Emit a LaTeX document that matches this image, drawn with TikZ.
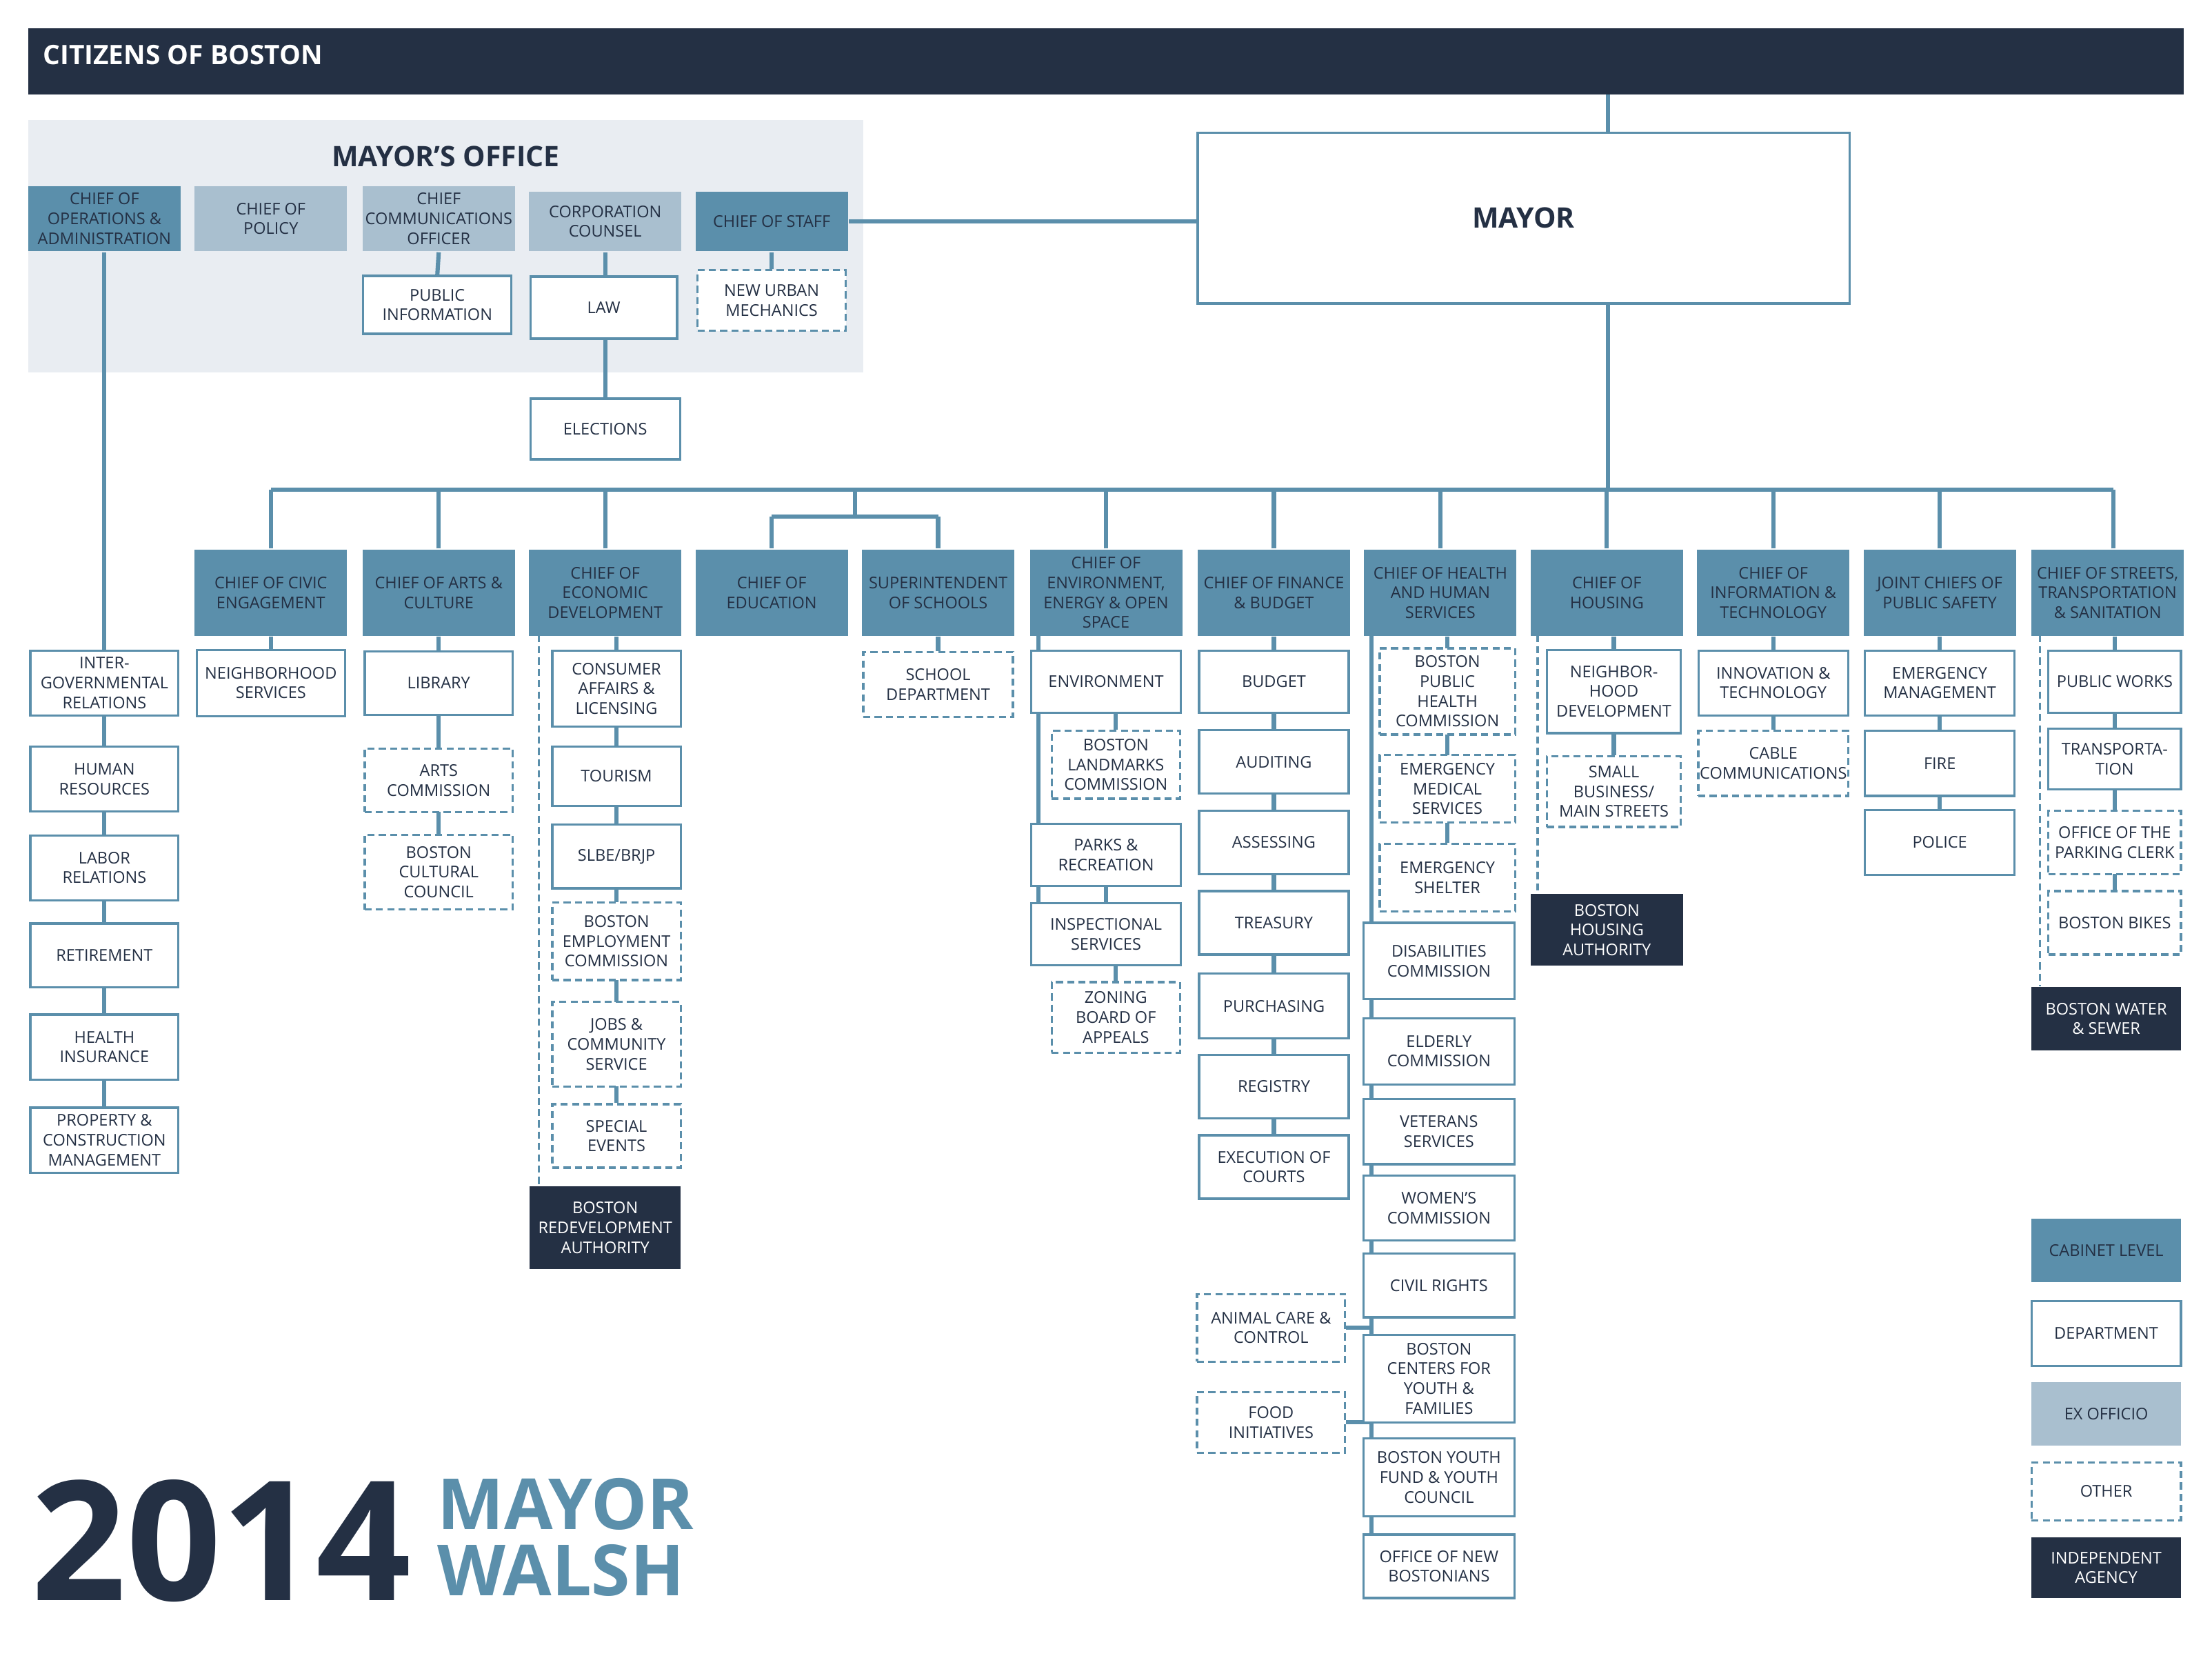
\documentclass[tikz,border=0pt]{standalone}
\usepackage{fontspec}
\setmainfont{Open Sans}
\usetikzlibrary{backgrounds}
\definecolor{navy}{HTML}{243044}
\definecolor{cab}{HTML}{5B8FAB}
\definecolor{exo}{HTML}{A9BFCF}
\definecolor{ltbg}{HTML}{E9EDF2}
\tikzset{
 base/.style={line width=1.6pt, align=center, inner sep=1pt, font=\fontsize{11.5}{14}\selectfont, text=navy},
 dept/.style={base, draw=cab, fill=white},
 oth/.style={base, draw=cab, dashed, dash pattern=on 5pt off 3pt, fill=white},
 cabl/.style={base, fill=cab, text=navy},
 exof/.style={base, fill=exo, text=navy},
 ind/.style={base, fill=navy, text=white},
 con/.style={draw=cab, line width=3pt},
 dcon/.style={draw=cab, line width=1.6pt, dash pattern=on 5pt off 3pt},
}
\newcommand\bx[7]{\node[#1, minimum width=#5pt, minimum height=#6pt] (#2) at (#3,#4) {#7};}
\begin{document}
\begin{tikzpicture}[x=1pt,y=-1pt]
\useasboundingbox (0,0) rectangle (1568,1181);
\begin{scope}[on background layer]
\fill[white] (0,0) rectangle (1568,1181);
\fill[ltbg] (20,85) rectangle (612,264);
\end{scope}
% top
\node[fill=navy, minimum width=1528pt, minimum height=47pt, inner sep=0pt] (bar) at (784,43.5) {};
\node[anchor=west, text=white, font=\fontsize{19}{22}\selectfont\bfseries] (bartxt) at (27,39) {CITIZENS OF BOSTON};
\node[text=navy, font=\fontsize{20}{24}\selectfont\bfseries] (motitle) at (316,111) {MAYOR’S OFFICE};
\node[base, draw=cab, fill=white, minimum width=462pt, minimum height=121pt, font=\fontsize{20}{24}\selectfont\bfseries] (mayor) at (1080,154.5) {MAYOR};
% mayor's office
\bx{cabl}{coo}{74}{155}{108}{46}{CHIEF OF\\OPERATIONS \&\\ADMINISTRATION}
\bx{exof}{pol}{192}{155}{108}{46}{CHIEF OF\\POLICY}
\bx{exof}{comm}{311}{155}{108}{46}{CHIEF\\COMMUNICATIONS\\OFFICER}
\bx{exof}{corp}{429}{157}{108}{42}{CORPORATION\\COUNSEL}
\bx{cabl}{cos}{547}{157}{108}{42}{CHIEF OF STAFF}
\bx{dept}{pubinfo}{310}{216}{105}{41}{PUBLIC\\INFORMATION}
\bx{dept}{law}{428}{218}{104}{44}{LAW}
\bx{oth}{num}{547}{213}{105}{43}{NEW URBAN\\MECHANICS}
\bx{dept}{elect}{429}{304}{106}{43}{ELECTIONS}
% coo column
\bx{dept}{igr}{74}{484}{105}{46}{INTER-\\GOVERNMENTAL\\RELATIONS}
\bx{dept}{hr}{74}{552}{105}{46}{HUMAN\\RESOURCES}
\bx{dept}{labor}{74}{615}{105}{46}{LABOR\\RELATIONS}
\bx{dept}{ret}{74}{677}{105}{45}{RETIREMENT}
\bx{dept}{hins}{74}{742}{105}{46}{HEALTH\\INSURANCE}
\bx{dept}{prop}{74}{808}{105}{46}{PROPERTY \&\\CONSTRUCTION\\MANAGEMENT}
% cabinet row
\bx{cabl}{civic}{192}{420}{108}{61}{CHIEF OF CIVIC\\ENGAGEMENT}
\bx{cabl}{arts}{311}{420}{108}{61}{CHIEF OF ARTS \&\\CULTURE}
\bx{cabl}{econ}{429}{420}{108}{61}{CHIEF OF\\ECONOMIC\\DEVELOPMENT}
\bx{cabl}{educ}{547}{420}{108}{61}{CHIEF OF\\EDUCATION}
\bx{cabl}{supt}{665}{420}{108}{61}{SUPERINTENDENT\\OF SCHOOLS}
\bx{cabl}{env}{784}{420}{108}{61}{CHIEF OF\\ENVIRONMENT,\\ENERGY \& OPEN\\SPACE}
\bx{cabl}{fin}{903}{420}{108}{61}{CHIEF OF FINANCE\\\& BUDGET}
\bx{cabl}{hlth}{1021}{420}{108}{61}{CHIEF OF HEALTH\\AND HUMAN\\SERVICES}
\bx{cabl}{hous}{1139}{420}{108}{61}{CHIEF OF\\HOUSING}
\bx{cabl}{info}{1257}{420}{108}{61}{CHIEF OF\\INFORMATION \&\\TECHNOLOGY}
\bx{cabl}{safe}{1375}{420}{108}{61}{JOINT CHIEFS OF\\PUBLIC SAFETY}
\bx{cabl}{strt}{1494}{420}{108}{61}{CHIEF OF STREETS,\\TRANSPORTATION\\\& SANITATION}
% civic
\bx{dept}{nbhd}{192}{484}{105}{47}{NEIGHBORHOOD\\SERVICES}
% arts
\bx{dept}{lib}{311}{484}{105}{45}{LIBRARY}
\bx{oth}{artc}{311}{553}{105}{45}{ARTS\\COMMISSION}
\bx{oth}{bcc}{311}{618}{105}{53}{BOSTON\\CULTURAL\\COUNCIL}
% econ
\bx{dept}{cal}{437}{488}{91}{54}{CONSUMER\\AFFAIRS \&\\LICENSING}
\bx{dept}{tour}{437}{550}{91}{42}{TOURISM}
\bx{dept}{slbe}{437}{607}{91}{45}{SLBE/BRJP}
\bx{oth}{bec}{437}{667}{91}{55}{BOSTON\\EMPLOYMENT\\COMMISSION}
\bx{oth}{jobs}{437}{740}{91}{60}{JOBS \&\\COMMUNITY\\SERVICE}
\bx{oth}{spev}{437}{805}{91}{45}{SPECIAL\\EVENTS}
\bx{ind}{bra}{429}{870}{107}{59}{BOSTON\\REDEVELOPMENT\\AUTHORITY}
% supt
\bx{oth}{school}{665}{485}{106}{46}{SCHOOL\\DEPARTMENT}
% env
\bx{dept}{envd}{784}{483}{106}{44}{ENVIRONMENT}
\bx{oth}{land}{791}{542}{91}{48}{BOSTON\\LANDMARKS\\COMMISSION}
\bx{dept}{parks}{784}{606}{106}{44}{PARKS \&\\RECREATION}
\bx{dept}{insp}{784}{662}{106}{44}{INSPECTIONAL\\SERVICES}
\bx{oth}{zone}{791}{721}{91}{50}{ZONING\\BOARD OF\\APPEALS}
% finance
\bx{dept}{budg}{903}{483}{106}{44}{BUDGET}
\bx{dept}{aud}{903}{540}{106}{45}{AUDITING}
\bx{dept}{ass}{903}{597}{106}{45}{ASSESSING}
\bx{dept}{tre}{903}{654}{106}{45}{TREASURY}
\bx{dept}{pur}{903}{713}{106}{46}{PURCHASING}
\bx{dept}{reg}{903}{770}{106}{45}{REGISTRY}
\bx{dept}{exec}{903}{827}{106}{45}{EXECUTION OF\\COURTS}
% health
\bx{oth}{bphc}{1026}{490}{96}{61}{BOSTON\\PUBLIC\\HEALTH\\COMMISSION}
\bx{oth}{ems}{1026}{559}{96}{48}{EMERGENCY\\MEDICAL\\SERVICES}
\bx{oth}{shel}{1026}{622}{96}{48}{EMERGENCY\\SHELTER}
\bx{dept}{dis}{1020}{681}{107}{54}{DISABILITIES\\COMMISSION}
\bx{dept}{eld}{1020}{745}{107}{47}{ELDERLY\\COMMISSION}
\bx{dept}{vet}{1020}{802}{107}{46}{VETERANS\\SERVICES}
\bx{dept}{wom}{1020}{856}{107}{46}{WOMEN’S\\COMMISSION}
\bx{dept}{civr}{1020}{911}{107}{45}{CIVIL RIGHTS}
\bx{dept}{bcyf}{1020}{977}{107}{62}{BOSTON\\CENTERS FOR\\YOUTH \&\\FAMILIES}
\bx{dept}{byf}{1020}{1047}{107}{55}{BOSTON YOUTH\\FUND \& YOUTH\\COUNCIL}
\bx{dept}{onb}{1020}{1110}{107}{45}{OFFICE OF NEW\\BOSTONIANS}
\bx{oth}{anim}{901}{941}{105}{48}{ANIMAL CARE \&\\CONTROL}
\bx{oth}{food}{901}{1008}{105}{43}{FOOD\\INITIATIVES}
% housing
\bx{dept}{ndev}{1144}{490}{95}{59}{NEIGHBOR-\\HOOD\\DEVELOPMENT}
\bx{oth}{sbiz}{1144}{561}{95}{50}{SMALL\\BUSINESS/\\MAIN STREETS}
\bx{ind}{bha}{1139}{659}{108}{51}{BOSTON\\HOUSING\\AUTHORITY}
% info
\bx{dept}{innov}{1257}{484}{106}{46}{INNOVATION \&\\TECHNOLOGY}
\bx{oth}{cable}{1257}{541}{106}{46}{CABLE\\COMMUNICATIONS}
% safety
\bx{dept}{emgt}{1375}{484}{106}{46}{EMERGENCY\\MANAGEMENT}
\bx{dept}{fire}{1375}{541}{106}{46}{FIRE}
\bx{dept}{pol2}{1375}{597}{106}{46}{POLICE}
% streets
\bx{dept}{pw}{1499}{483}{94}{44}{PUBLIC WORKS}
\bx{dept}{trans}{1499}{538}{94}{43}{TRANSPORTA-\\TION}
\bx{oth}{park}{1499}{597}{94}{45}{OFFICE OF THE\\PARKING CLERK}
\bx{oth}{bikes}{1499}{654}{94}{45}{BOSTON BIKES}
\bx{ind}{bwsc}{1493}{722}{106}{45}{BOSTON WATER\\\& SEWER}
% legend
\bx{cabl}{lg1}{1493}{886}{106}{45}{CABINET LEVEL}
\bx{dept}{lg2}{1493}{945}{106}{46}{DEPARTMENT}
\bx{exof}{lg3}{1493}{1002}{106}{45}{EX OFFICIO}
\bx{oth}{lg4}{1493}{1057}{106}{41}{OTHER}
\bx{ind}{lg5}{1493}{1111}{106}{43}{INDEPENDENT\\AGENCY}
% big title
\node[anchor=base west, inner sep=0pt, text=navy, font=\fontsize{118}{118}\selectfont\bfseries] (yr) at (22,1134) {2014};
\node[anchor=base west, inner sep=0pt, text=cab, font=\fontsize{50}{50}\selectfont\bfseries] (mw1) at (310,1084) {MAYOR};
\node[anchor=base west, inner sep=0pt, text=cab, font=\fontsize{50}{50}\selectfont\bfseries] (mw2) at (310,1131) {WALSH};
% connectors
\coordinate (tA) at (1140,67);
\coordinate (tB) at (1140,215);
\coordinate (busR) at (1498,347);
\coordinate (busL) at (192,347);
\coordinate (busT) at (1140,347);
\coordinate (eA) at (606,347);
\coordinate (eB) at (606,366);
\coordinate (eL) at (547,366);
\coordinate (eR) at (665,366);
\coordinate (ec1) at (382,450);
\coordinate (ev1) at (736,450);
\coordinate (ev2) at (736,640);
\coordinate (h1) at (972,450);
\coordinate (h2) at (972,1110);
\coordinate (hs1) at (1090,450);
\coordinate (st1) at (1446,450);
\begin{scope}[on background layer]
\draw[con] (tA) -- (tA |- mayor.north);
\draw[con] (cos.east) -- (cos.east -| mayor.west);
\draw[con] (cos.south) -- (num.north);
\draw[con] (comm.south) -- (pubinfo.north);
\draw[con] (corp.south) -- (elect.north);
\draw[con] (coo.south) -- (prop.north);
\draw[con] (tB) -- (busT);
\draw[con] (busL) -- (busR);
\foreach \n in {civic,arts,econ,env,fin,hlth,hous,info,safe} \draw[con] (\n.north) -- (\n.north |- busL);
\draw[con] (strt.north -| busR) -- (busR);
\draw[con] (eA) -- (eB); \draw[con] (eL) -- (eR);
\draw[con] (eL) -- (educ.north); \draw[con] (eR) -- (supt.north);
\draw[con] (civic.south) -- (nbhd.north);
\draw[con] (arts.south) -- (bcc.north);
\draw[con] (econ.south -| cal.north) -- (spev.north);
\draw[dcon] (ec1) -- (ec1 |- bra.north);
\draw[con] (supt.south) -- (school.north);
\draw[con] (ev1) -- (ev2);
\draw[con] (envd.south -| land.north) -- (land.north);
\draw[con] (parks.south) -- (insp.north);
\draw[con] (insp.south -| zone.north) -- (zone.north);
\draw[con] (fin.south) -- (exec.north);
\draw[con] (h1) -- (h2);
\draw[con] (hlth.south -| bphc.north) -- (shel.north);
\draw[con] (anim.east) -- (anim.east -| h1);
\draw[con] (food.east) -- (food.east -| h1);
\draw[con] (hous.south -| ndev.north) -- (sbiz.north);
\draw[dcon] (hs1) -- (hs1 |- bha.north);
\draw[con] (info.south) -- (cable.north);
\draw[con] (safe.south) -- (pol2.north);
\draw[con] (strt.south -| pw.north) -- (bikes.north);
\draw[dcon] (st1) -- (st1 |- bwsc.north);
\end{scope}
\end{tikzpicture}
\end{document}
